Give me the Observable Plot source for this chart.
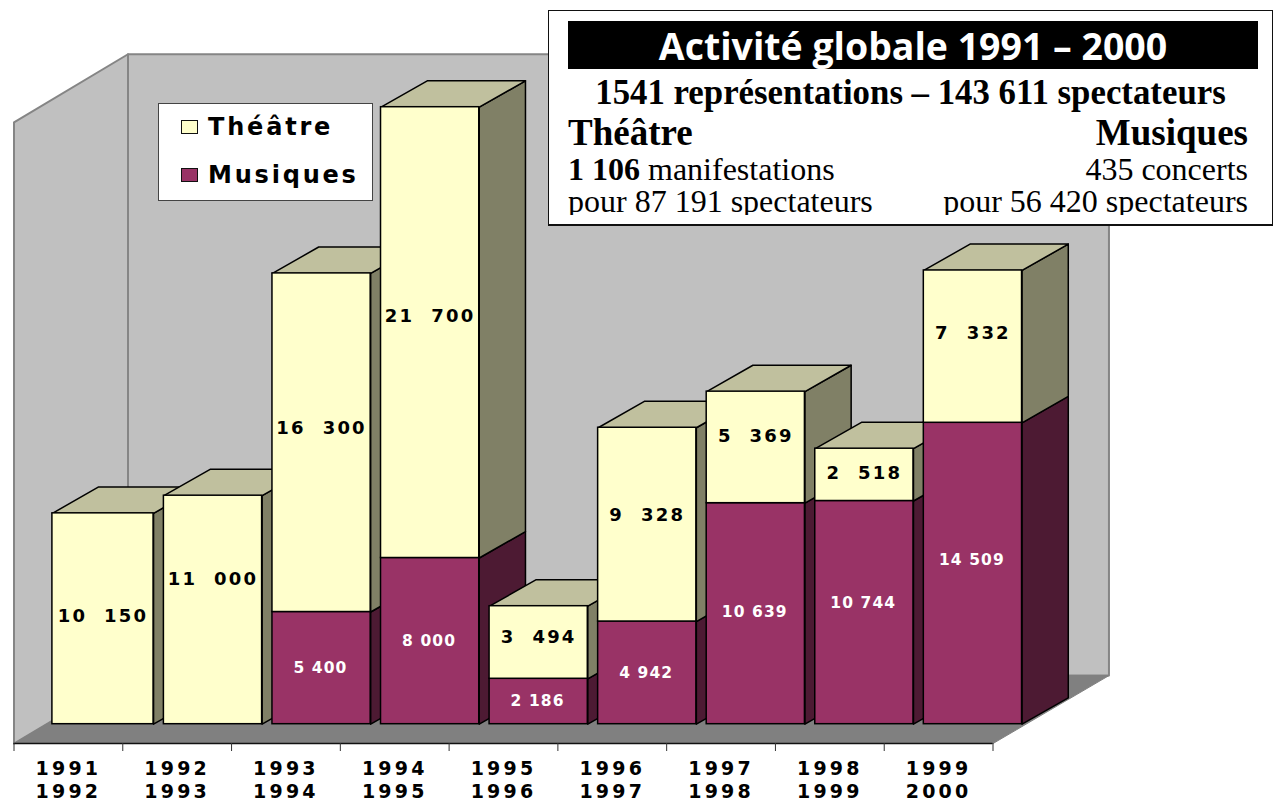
<!DOCTYPE html>
<html lang="fr">
<head>
<meta charset="utf-8">
<script src="https://cdn.jsdelivr.net/npm/d3@7"></script>
<script src="https://cdn.jsdelivr.net/npm/@observablehq/plot@0.6"></script>
<style>
html,body{margin:0;padding:0;background:#fff;overflow:hidden}
#stage{position:relative;width:1279px;height:801px;overflow:hidden}
#stage svg{position:absolute;left:0;top:0}
.wide text{letter-spacing:3.2px}
.val text{letter-spacing:2.2px}
.valw text{letter-spacing:1.1px}
.abs{position:absolute;white-space:pre;line-height:1}
#box{position:absolute;left:548px;top:10px;width:725px;height:216px;background:#fff;border:1px solid #111;box-sizing:border-box;border-bottom-width:2px;font-family:"Liberation Serif",serif;color:#000}
#clip{position:absolute;left:0;right:0;top:0;height:204px;overflow:hidden}
#band{position:absolute;left:19px;top:10px;width:690px;height:48px;background:#000;color:#fff;text-align:center;font:700 38px/48px "Open Sans",sans-serif}
#band span{display:inline-block;transform:scaleX(.985);white-space:nowrap}
#legend{position:absolute;left:158px;top:103px;width:215px;height:98px;background:#fff;border:1px solid #444;box-sizing:border-box;font:700 24px "DejaVu Sans",sans-serif;letter-spacing:2.8px;color:#000}
.sw{position:absolute;left:22px;width:17px;height:14px;border:1.5px solid #111;box-sizing:border-box}
</style>
</head>
<body>
<div id="stage"></div>
<script>
const periods = ["1991\n1992","1992\n1993","1993\n1994","1994\n1995","1995\n1996","1996\n1997","1997\n1998","1998\n1999","1999\n2000"];
const theatre = [10150,11000,16300,21700,3494,9328,5369,2518,7332];
const musiques = [0,0,5400,8000,2186,4942,10639,10744,14509];
const theatreLabelLift = [100,1490,720,770,240,430,530,100,625];
const musiquesLabelLift = [0,0,0,0,0,0,100,480,670];

const colors = {
  wall:"#c0c0c0", floor:"#808080", edge:"#858585",
  theatreFront:"#ffffcc", theatreSide:"#808066", theatreTop:"#c0c09e",
  musiquesFront:"#993366", musiquesSide:"#4d1a33"
};

// depth of the bars and of the room, in the units of the x and y scales
const barDx = 0.425, barDy = 1270;
const floorFront = -930, floorBack = 2340, wallTopFront = 28975, wallTopBack = 32250;
const backLeft = 1.048, backRight = 10.066;
const barStart = i => 0.38 + 0.998*i - (i === 0 ? 0.027 : 0);
const barEnd = i => 0.38 + 0.998*i + 0.903;

const poly = (id, fill, pts) => pts.concat([pts[0]]).map(([x,y]) => ({id, fill, x, y}));

const room = [
  ...poly("left", colors.wall, [[0,floorFront],[0,wallTopFront],[backLeft,wallTopBack],[backLeft,floorBack]]),
  ...poly("back", colors.wall, [[backLeft,floorBack],[backLeft,wallTopBack],[backRight,wallTopBack],[backRight,floorBack]]),
  ...poly("floor", colors.floor, [[0,floorFront],[9,floorFront],[backRight,floorBack],[backLeft,floorBack]])
];

const segments = i => [
  {kind:"musiques", y1:0, y2:musiques[i], front:colors.musiquesFront, side:colors.musiquesSide},
  {kind:"theatre", y1:musiques[i], y2:musiques[i]+theatre[i], front:colors.theatreFront, side:colors.theatreSide}
].filter(s => s.y2 > s.y1);

const depthFaces = i => {
  const x = barEnd(i), x0 = barStart(i), top = musiques[i]+theatre[i];
  const faces = segments(i).flatMap(s =>
    poly(i+s.kind, s.side, [[x,s.y1],[x+barDx,s.y1+barDy],[x+barDx,s.y2+barDy],[x,s.y2]]));
  return faces.concat(poly(i+"top", colors.theatreTop, [[x0,top],[x0+barDx,top+barDy],[x+barDx,top+barDy],[x,top]]));
};

const spaced = (sep) => d3.formatLocale({decimal:".", thousands:sep, grouping:[3], currency:["",""]}).format(",d");
const fmtTheatre = spaced("\u00a0\u00a0"), fmtMusiques = spaced("\u00a0");

const idx = d3.range(periods.length);
const face = {x:"x", y:"y", z:"id", fill:"fill", stroke:"#000", strokeWidth:1.5, strokeLinejoin:"round"};

const chart = Plot.plot({
  width:1279, height:801,
  marginLeft:13, marginRight:287, marginTop:0, marginBottom:58,
  x:{domain:[0,9], range:[13.5,992.5]},
  y:{domain:[-963,34803], range:[743.7,0.7], axis:null},
  color:{type:"identity"},
  style:{background:"transparent"},
  marks:[
    Plot.line(room.filter(d => d.id !== "floor"), {...face, stroke:colors.edge, strokeWidth:2}),
    Plot.line(room.filter(d => d.id === "floor"), {...face, stroke:colors.floor, strokeWidth:1}),
    Plot.ruleY([floorFront], {x1:0, x2:9, stroke:"#111", strokeWidth:1.5}),
    Plot.axisX(d3.range(10), {tickSize:8, tickFormat:() => "", stroke:"#333", label:null}),
    Plot.axisX(idx.map(i => i+0.5), {
      tickSize:0, tickPadding:15, label:null, className:"wide",
      tickFormat:(d) => periods[Math.floor(d)],
      fontSize:19, fontWeight:700, fontFamily:"DejaVu Sans", fill:"#000", lineHeight:1.22, lineAnchor:"top"
    }),
    idx.map(i => [
      Plot.line(depthFaces(i), face),
      Plot.rect(segments(i), {
        x1:() => barStart(i), x2:() => barEnd(i), y1:"y1", y2:"y2",
        fill:"front", stroke:"#000", strokeWidth:1.5
      })
    ]),
    Plot.text(idx, {
      x:i => (barStart(i)+barEnd(i))/2, y:i => musiques[i]+theatre[i]/2+theatreLabelLift[i],
      text:i => fmtTheatre(theatre[i]), fill:"#000", fontSize:18, fontWeight:700,
      fontFamily:"DejaVu Sans", className:"val"
    }),
    Plot.text(idx.filter(i => musiques[i] > 0), {
      x:i => (barStart(i)+barEnd(i))/2 - 0.01, y:i => musiques[i]/2+musiquesLabelLift[i],
      text:i => fmtMusiques(musiques[i]), fill:"#fff", fontSize:15.5, fontWeight:700,
      fontFamily:"DejaVu Sans", className:"valw"
    })
  ]
});

const stage = document.getElementById("stage");
stage.appendChild(chart);

const legendEl = document.createElement("div");
legendEl.id = "legend";
legendEl.innerHTML = `
  <div class="sw" style="top:16px;background:${colors.theatreFront}"></div>
  <div class="abs" style="left:49px;top:11px">Théâtre</div>
  <div class="sw" style="top:64px;background:${colors.musiquesFront}"></div>
  <div class="abs" style="left:49px;top:59px">Musiques</div>`;
stage.appendChild(legendEl);

const box = document.createElement("div");
box.id = "box";
box.innerHTML = `
  <div id="band"><span>Activité globale 1991 – 2000</span></div>
  <div id="clip">
  <div class="abs" style="left:0;right:0;top:65px;text-align:center;font-size:34.8px;font-weight:700">1541 représentations – 143 611 spectateurs</div>
  <div class="abs" style="left:19px;top:103px;font-size:37px;font-weight:700">Théâtre</div>
  <div class="abs" style="right:24px;top:103px;font-size:37px;font-weight:700">Musiques</div>
  <div class="abs" style="left:19px;top:142px;font-size:32px"><b>1 106</b> manifestations</div>
  <div class="abs" style="right:24px;top:142px;font-size:32px">435 concerts</div>
  <div class="abs" style="left:19px;top:174px;font-size:32px">pour 87 191 spectateurs</div>
  <div class="abs" style="right:24px;top:174px;font-size:32px">pour 56 420 spectateurs</div>
  </div>`;
stage.appendChild(box);
</script>
</body>
</html>
